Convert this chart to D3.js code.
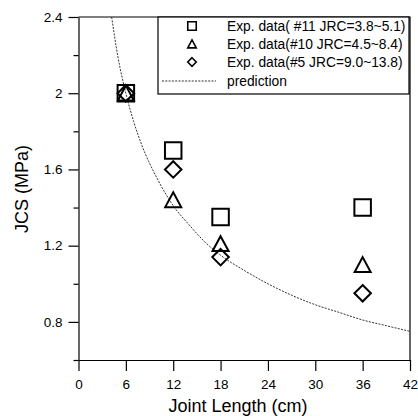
<!DOCTYPE html>
<html>
<head>
<meta charset="utf-8">
<script src="https://cdn.jsdelivr.net/npm/d3@7"></script>
<style>
  body { margin: 0; background: #fff; }
  svg { display: block; font-family: "Liberation Sans", Arial, sans-serif; }
</style>
</head>
<body>
<div id="chart"></div>
<script>
// data
const jointLength = [6, 12, 18, 36];
const jcs11 = [2.0, 1.70, 1.35, 1.40];
const jcs10 = [2.0, 1.44, 1.21, 1.10];
const jcs5 = [2.0, 1.60, 1.14, 0.95];
const predLength = [4.2, 5, 6, 7, 8, 10, 12, 14, 16, 18, 21, 24, 27, 30, 33, 36, 39, 42];
const predJcs = [2.40, 2.19, 2.00, 1.85, 1.73, 1.55, 1.41, 1.31, 1.22, 1.15, 1.07, 1.00, 0.94, 0.89, 0.85, 0.81, 0.78, 0.75];
const xTicks = [0, 6, 12, 18, 24, 30, 36, 42];
const yTicks = [0.8, 1.2, 1.6, 2.0, 2.4];
const yMinorTicks = [0.6, 1.0, 1.4, 1.8, 2.2];
const legendLabels = [
  'Exp. data( #11 JRC=3.8~5.1)',
  'Exp. data(#10 JRC=4.5~8.4)',
  'Exp. data(#5 JRC=9.0~13.8)',
  'prediction'
];

const width = 418;
const height = 416;
const plotLeft = 78.5, plotRight = 410, plotTop = 17, plotBottom = 360;
const tickFont = '13.5px';
const legendFont = '13.8px';
const titleFont = '18px';

const xScale = d3.scaleLinear().domain([0, 42]).range([plotLeft, plotRight]);
const yScale = d3.scaleLinear().domain([0.6, 2.4]).range([plotBottom, plotTop]);

const svg = d3.select('#chart')
  .append('svg')
  .attr('width', width)
  .attr('height', height);

// marker shapes, s = full width
function markerPath(shape, s) {
  const h = s / 2;
  if (shape === 'square') return `M${-h},${-h}H${h}V${h}H${-h}Z`;
  if (shape === 'triangle') return `M0,${-h * 0.95}L${h},${h * 0.9}H${-h}Z`;
  return `M0,${-h}L${h},0L0,${h}L${-h},0Z`;
}

svg.append('defs').append('clipPath')
  .attr('id', 'plot-clip')
  .append('rect')
  .attr('x', plotLeft).attr('y', plotTop)
  .attr('width', plotRight - plotLeft).attr('height', plotBottom - plotTop);

// frame top / right
svg.append('path')
  .attr('d', `M${plotLeft},${plotTop}H${plotRight}V${plotBottom}`)
  .attr('fill', 'none')
  .attr('stroke', '#000')
  .attr('stroke-width', 1.2);

// y axis
const yAxis = svg.append('g')
  .attr('transform', `translate(${plotLeft},0)`)
  .call(d3.axisLeft(yScale).tickValues(yTicks).tickSize(10).tickSizeOuter(0).tickPadding(6)
    .tickFormat(d => String(+d.toFixed(1))));
yAxis.selectAll('text').style('font-size', tickFont).attr('fill', '#000');
yAxis.selectAll('line, path').attr('stroke-width', 1.2);
svg.append('g')
  .attr('transform', `translate(${plotLeft},0)`)
  .call(d3.axisLeft(yScale).tickValues(yMinorTicks).tickSize(5).tickFormat(''))
  .call(g => g.select('.domain').remove())
  .selectAll('line').attr('stroke-width', 1.2);

// x axis
const xAxis = svg.append('g')
  .attr('transform', `translate(0,${plotBottom})`)
  .call(d3.axisBottom(xScale).tickValues(xTicks).tickSize(11).tickSizeOuter(0).tickPadding(8));
xAxis.selectAll('text').style('font-size', tickFont).attr('fill', '#000');
xAxis.selectAll('line, path').attr('stroke-width', 1.2);

// titles
svg.append('text')
  .attr('x', 238).attr('y', 412)
  .attr('text-anchor', 'middle')
  .style('font-size', titleFont)
  .text('Joint Length (cm)');
svg.append('text')
  .attr('transform', 'translate(28,189) rotate(-90)')
  .attr('text-anchor', 'middle')
  .style('font-size', titleFont)
  .text('JCS (MPa)');

// prediction curve
const line = d3.line()
  .x((d, i) => xScale(predLength[i]))
  .y(d => yScale(d))
  .curve(d3.curveMonotoneX);
svg.append('path')
  .datum(predJcs)
  .attr('clip-path', 'url(#plot-clip)')
  .attr('fill', 'none')
  .attr('stroke', '#333')
  .attr('stroke-width', 1)
  .attr('stroke-dasharray', '2,1.3')
  .attr('d', line);

// experimental points
const series = [
  {values: jcs11, shape: 'square'},
  {values: jcs10, shape: 'triangle'},
  {values: jcs5, shape: 'diamond'}
];
series.forEach(s => {
  svg.append('g')
    .selectAll('path')
    .data(s.values)
    .join('path')
    .attr('transform', (d, i) => `translate(${xScale(jointLength[i])},${yScale(d)})`)
    .attr('d', markerPath(s.shape, s.shape === 'triangle' ? 16 : 16.5))
    .attr('fill', 'none')
    .attr('stroke', '#000')
    .attr('stroke-width', 2);
});

// legend
const legend = svg.append('g');
legend.append('rect')
  .attr('x', 158).attr('y', plotTop)
  .attr('width', 251).attr('height', 77)
  .attr('fill', '#fff')
  .attr('stroke', '#000')
  .attr('stroke-width', 1.2);
const rowY = [26, 44, 62, 81];
legendLabels.forEach((label, i) => {
  if (i < 3) {
    legend.append('path')
      .attr('transform', `translate(192,${rowY[i]})`)
      .attr('d', markerPath(series[i].shape, 8.5))
      .attr('fill', 'none')
      .attr('stroke', '#000')
      .attr('stroke-width', 1.6);
  } else {
    legend.append('line')
      .attr('x1', 162).attr('x2', 216)
      .attr('y1', rowY[i]).attr('y2', rowY[i])
      .attr('stroke', '#333')
      .attr('stroke-width', 1)
      .attr('stroke-dasharray', '2,1.3');
  }
  legend.append('text')
    .attr('x', 227).attr('y', rowY[i])
    .attr('dy', '0.36em')
    .style('font-size', legendFont)
    .text(label);
});
</script>
</body>
</html>
